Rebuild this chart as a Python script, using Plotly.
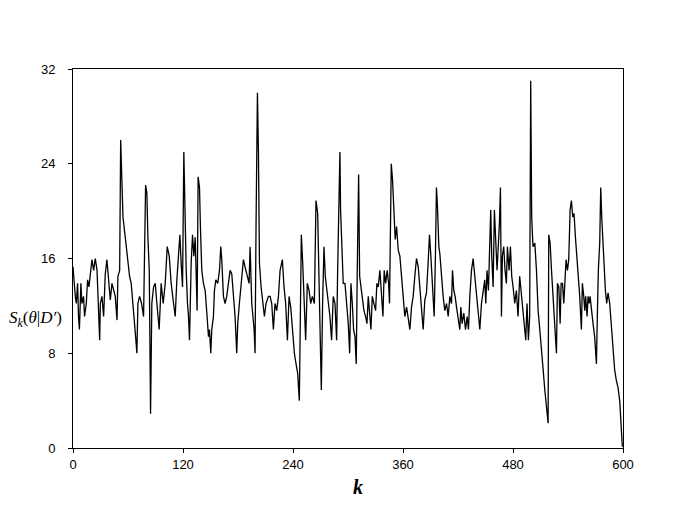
import plotly.graph_objects as go

# values (k position, S_k value at each vertex)
k = [0, 1.4, 2.5, 3.6, 5, 6, 7, 8.6, 9.7, 11.5, 12.6, 14.5, 15.9, 17.4, 19.6, 20.7,
     22.5, 24.3, 26.2, 27.6, 29.1, 29.8, 31.6, 33.4, 35.2, 37, 38.9, 40.7, 42.5, 44.3,
     46.1, 48, 49, 50.9, 52, 53, 54.5, 57, 59.6, 61.7, 63.5, 65, 66.8, 68.3, 69.7, 70.8,
     72.6, 74.8, 77, 79.2, 80.6, 81.7, 83.2, 84.6, 86, 87.9,
     89.7, 91.5, 94, 96.2, 98.4, 100.6, 102.8, 105, 107.1, 109.7, 111.5, 113.3, 115.1,
     116.6, 118, 119.5, 120.9, 122, 123.5, 124.9, 126, 127.1, 128.9, 130.4, 131.8, 133.3,
     134.3, 135.4, 136.5, 138, 139.1, 140.5, 142.3, 144.2, 146, 147.8, 148.9, 150.3,
     151.4, 153.2, 154.3, 155.8, 157.9, 159.8, 161.2, 162.3, 164.1, 165.9, 167.7, 169.6,
     171.4, 173.2, 175, 176.8, 178.6, 179.7, 181.5, 184.1, 185.9, 187.7, 189.5, 192.1,
     193.2, 195, 197.6, 198.6, 199.7, 201.2, 202.3, 203.4, 205.2, 207, 208.8, 210.6,
     213.2, 215, 216.8, 218.6, 220.4, 222.2, 224.1, 225.9, 228.4, 230.2, 232, 233.9,
     235.7, 237.5, 239.3, 241.5, 243.3, 245.1, 246.9, 248, 249.1, 250.6, 252.4, 253.8,
     255.6, 257.5, 259.3, 261.1, 263.3, 265.1, 266.9, 268.3, 269.4, 270.9, 272.3, 273.8,
     275.2, 276.7, 278.5, 280.3, 282.1, 283.9, 285.8, 287.6, 288.7, 289.8, 291.2, 291.9,
     293.4, 294.8,
     296.7, 298.5, 300.3, 301.8, 303.2, 304.7, 306.1, 307.6, 309, 310.1, 311.6, 312.7,
     314.1, 315.6, 317.4, 319.2, 320.7, 322.1, 323.6, 325, 326.5, 327.9, 330.1, 331.5,
     333, 334.8, 336.6, 338.1, 339.5, 341, 342.8, 344.3, 345.3, 346.1, 347.2, 348.6,
     350.1, 351.5, 353, 354.8, 356.6, 358.4, 360.2, 362, 363.9, 365.7, 367.5, 369.3,
     371.1, 372.9, 374.7, 376.6, 378.4, 380.2, 382, 383.8, 385.6, 387.4, 388.9, 390.4,
     392.2, 394, 395.4, 396.5, 397.6, 399.1,
     400.2, 402, 403.8, 405.6, 407.5, 409.3, 411.1, 412.9, 414, 415.4, 416.9, 418.4,
     420.2, 422, 423.1, 424.5, 426.3, 428.2, 430, 431.4, 432.9, 434.7, 436.5, 438.3,
     440.1, 441.9, 443.8, 445.6, 447.4, 449.2, 450.3, 451.7, 453.2, 454.7, 455.7, 456.8,
     458.3, 459.7, 461.2, 462.6, 464.1, 465.2, 466.3, 467.4, 468.4, 469.9, 471.3, 472.8,
     473.9, 475.7, 477.2, 478.6, 480.1, 481.9, 483.7, 485.5, 487.3, 489.1, 491, 492.8,
     493.9, 495.3, 496.8, 498.2, 499.3, 500.4, 501.8,
     503.8, 505.6, 507.4, 509.2, 511.1, 512.9, 514.7, 516.5, 518.3, 519, 520.5, 522,
     523.8, 524.9, 526.3, 527.4, 528.5, 530, 531.4, 532.5, 534, 535.4, 536.5, 537.9,
     539.4, 540.8, 542.3, 543.7, 545.2, 546.6, 548.1, 549.5, 551, 552.8, 554.6, 555.7,
     557.2, 558.3, 559.3, 560.8, 561.9, 563, 564.1, 565.5, 567.3, 569.1, 571, 572,
     573.1, 574.6, 575.7, 576.8, 577.9, 579.3, 580.8, 582.2, 583.7, 585.5, 587.3, 589.1,
     590.9, 592.7, 594.6, 596.4, 598.2, 599.3]

s = [15.3, 13.6, 12.8, 12.2, 13.9, 11.1, 10, 13.9, 12.2, 12.8, 11.1, 12.2, 14.2, 13.6, 15, 15.9,
     15, 16, 15, 12.2, 9.1, 12.2, 12.8, 11.1, 14.7, 15.9, 13.9, 12.5, 13.9, 13.3,
     12.8, 10.8, 14.5, 15, 26, 23.5, 19.5, 17.8, 16.2, 14.5, 13.9, 12.2, 10.8, 9.4, 8, 12.2,
     12.8, 12.2, 11.1, 22.2, 21.5, 17.8, 15, 2.9, 12.2, 13.6,
     13.9, 12.2, 10, 13.9, 12.2, 13.9, 17, 16.2, 13.9, 12.2, 11.1, 14.2, 15.9,
     18, 15.6, 13.6, 25, 19.3, 15, 12.2, 11.1, 9.1, 15.6, 18, 16.2, 17.8,
     13.6, 11.6, 22.9, 22, 18.4, 15, 13.9, 13.3, 11.4, 9.4, 10, 8,
     10, 11.1, 13.3, 14.2, 13.9, 15, 17, 15.9, 12.8, 12.2, 12.8, 13.9,
     15, 14.7, 12.8, 11.1, 8, 10.5, 12.2, 14.7, 15.9, 15.3, 14.7, 13.9,
     17, 12.2, 10, 8, 19, 30, 24.9, 15.6, 13.6, 12.2, 11.1, 12.2,
     12.8, 12.8, 12.2, 10, 12.2, 11.6, 12.8, 15, 15.9, 13.6, 12.2, 9.1,
     12.8, 11.9, 10, 8, 7.1, 6.3, 4, 11.1, 18, 15.6, 12.2, 9.1,
     13.9, 13.3, 12.2, 12.8, 12.2, 20.9, 19.8, 15, 12.2, 4.9, 12.2, 17,
     14.5, 13.6, 12.2, 11.1, 9.1, 12.8, 12.2, 9.1, 15, 20.9, 25, 20.1,
     16.4, 13.9,
     13.9, 12.2, 10.5, 8, 13.9, 12.2, 10, 9.4, 7.1, 15, 23.1, 14.5,
     13.6, 12.8, 11.6, 11.1, 10.5, 12.8, 11.6, 10, 12.8, 12.2, 11.6, 13.9,
     13.6, 15, 12.8, 11.1, 15, 13.9, 15, 13.9, 12.2, 17.8, 24, 22.6,
     19, 17.6, 18.7, 16.7, 16.2, 14.5, 12.8, 11.1, 11.9, 11.1, 10, 11.9,
     12.8, 14.5, 16, 15.3, 13.3, 11.6, 10, 12.5, 13.1, 15.6, 18, 16.2,
     13.6, 11.1, 16.4, 22, 20.4, 17,
     16.4, 14.5, 12.8, 11.6, 12.2, 11.1, 12.8, 12.2, 15, 13.3, 12.8, 11.9,
     11.1, 10, 11.9, 10.5, 11.4, 10, 11.1, 10, 12.8, 15, 16, 14.5,
     12.8, 11.1, 10, 12.2, 13.3, 14.2, 12.2, 15, 13.3, 16.4, 20.1, 16.2,
     13.6, 20.1, 17.3, 15, 17.3, 19, 22, 11.1, 16.2, 17, 15, 13.9,
     17, 15, 17, 14.5, 13.6, 12.2, 13.3, 11.1, 14.5, 12.8, 11.6, 10,
     9.1, 12.2, 9.1, 11.1, 31, 19.5, 17,
     17.3, 15, 11.6, 10, 8.5, 6.6, 4.9, 3.2, 2.1, 18, 17.3, 15,
     12.2, 11.1, 9.4, 8, 13.9, 13.6, 10.5, 13.9, 13.9, 12.2, 14.2, 15.9,
     15, 15.9, 20.1, 20.9, 19.5, 19.8, 17.8, 16.4, 15, 12.8, 10, 13.9,
     12.8, 11.6, 12.8, 11.1, 12.8, 12.2, 12.8, 11.6, 10.5, 9.4, 7.1, 11.1,
     15, 17.3, 22, 19.5, 17.6, 14.5, 13.3, 12.2, 13.1, 12.2, 10.5, 8.5,
     6.6, 5.7, 5.1, 4, 2.1, 0.1]

x_ticks = [0, 120, 240, 360, 480, 600]
y_ticks = [0, 8, 16, 24, 32]

fig = go.Figure()
fig.add_trace(go.Scatter(x=k, y=s, mode='lines',
                         line=dict(color='black', width=1.3), showlegend=False))

axis_style = dict(showline=True, linecolor='black', linewidth=1, mirror=True,
                  showgrid=False, zeroline=False, ticks='outside', ticklen=4,
                  tickcolor='black',
                  tickfont=dict(family='Liberation Sans, Arial', size=13, color='black'))

fig.update_xaxes(range=[0, 600], tickvals=x_ticks, **axis_style)
fig.update_yaxes(range=[0, 32], tickvals=y_ticks, ticklabelstandoff=10, **axis_style)

fig.add_annotation(text='<i>S<sub>k</sub></i>(<i>θ</i>|<i>D′</i>)', xref='paper', yref='y',
                   x=-0.068, y=10.9, xanchor='center', yanchor='middle', showarrow=False,
                   font=dict(family='Liberation Serif, Times New Roman', size=17, color='black'))
fig.add_annotation(text='<b><i>k</i></b>', xref='paper', yref='paper',
                   x=0.518, y=-0.104, xanchor='center', yanchor='middle', showarrow=False,
                   font=dict(family='Liberation Serif, Times New Roman', size=20, color='black'))

# page body has an 8px margin, so the plot box is pulled up/left by that much
fig.update_layout(width=695, height=515, plot_bgcolor='white', paper_bgcolor='white',
                  margin=dict(l=65, r=80, t=61, b=75))

fig.write_html("out.html")
